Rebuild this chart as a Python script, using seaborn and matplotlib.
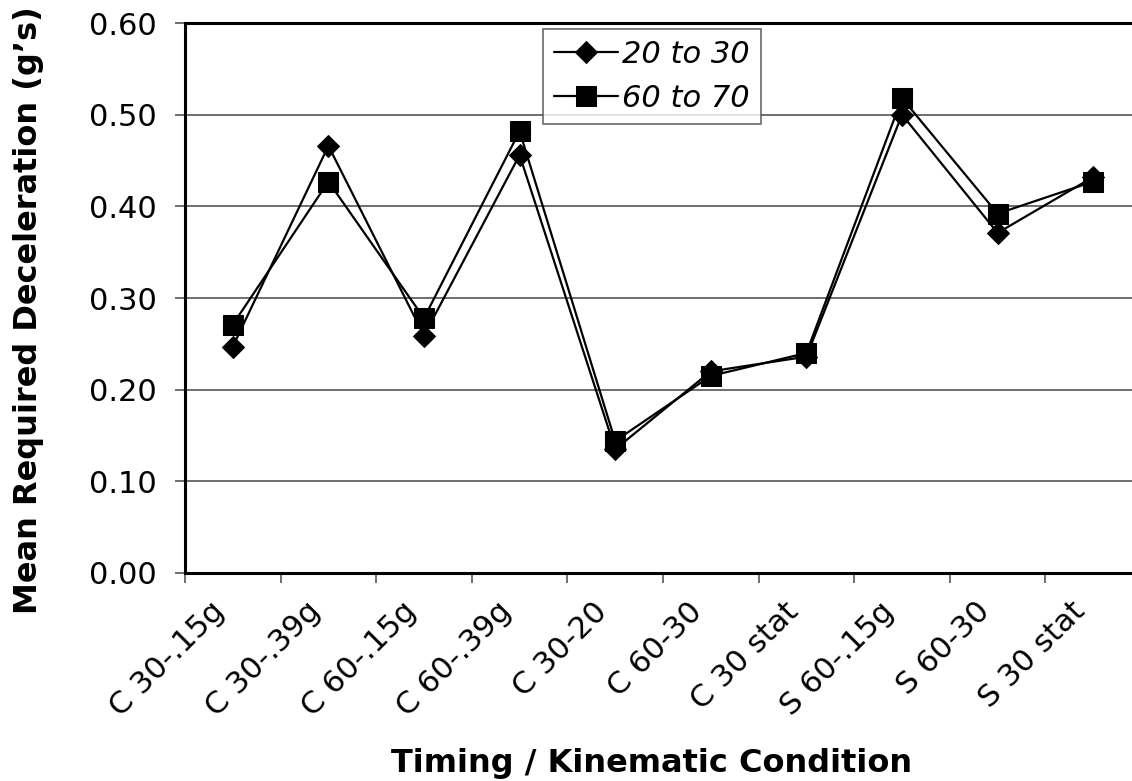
import matplotlib
matplotlib.use("Agg")
import matplotlib.pyplot as plt
import seaborn as sns
import pandas as pd
import numpy as np

categories = ["C 30-.15g", "C 30-.39g", "C 60-.15g", "C 60-.39g", "C 30-20",
              "C 60-30", "C 30 stat", "S 60-.15g", "S 60-30", "S 30 stat"]
series_20_30 = [0.247, 0.466, 0.259, 0.456, 0.135, 0.220, 0.236, 0.500, 0.371, 0.432]
series_60_70 = [0.271, 0.427, 0.278, 0.482, 0.144, 0.215, 0.240, 0.518, 0.392, 0.427]
series_names = ["20 to 30", "60 to 70"]
y_ticks = [0.0, 0.1, 0.2, 0.3, 0.4, 0.5, 0.6]

df = pd.DataFrame({
    "cond": categories * 2,
    "val": series_20_30 + series_60_70,
    "group": [series_names[0]] * len(categories) + [series_names[1]] * len(categories),
})

sns.set_theme(style="white")
plt.rcParams['font.family'] = ['DejaVu Sans']
plt.rcParams['text.color'] = 'black'
plt.rcParams['axes.labelcolor'] = 'black'
plt.rcParams['xtick.labelcolor'] = 'black'
plt.rcParams['ytick.labelcolor'] = 'black'

fig = plt.figure(figsize=(11.32, 7.81), dpi=100)
ax = fig.add_axes([185/1132, 1-573/781, (1141-185)/1132, (573-23)/781])

sns.lineplot(data=df, x="cond", y="val", hue="group", style="group",
             markers={"20 to 30": "D", "60 to 70": "s"}, dashes=False,
             palette={"20 to 30": "black", "60 to 70": "black"},
             markersize=13, linewidth=1.6, ax=ax, sort=False,
             markeredgecolor="black", legend=True)

def fix_marker(line):
    if line.get_marker() == "D":
        line.set_markersize(11)
    elif line.get_marker() == "s":
        line.set_markersize(14.5)

for line in ax.get_lines():
    fix_marker(line)

n = len(categories)
ax.set_xlim(-0.5, n - 0.5)
ax.set_ylim(0, 0.6)
ax.set_yticks(y_ticks)
ax.set_yticklabels([f"{v:.2f}" for v in y_ticks], fontsize=22)
# label anchors sit a little left of each category centre (as in the reference)
ax.set_xticks(np.arange(n) - 0.24)
ax.set_xticklabels(categories, rotation=45, ha="right", rotation_mode="anchor", fontsize=22)
ax.set_xticks(np.arange(n + 1) - 0.5, minor=True)
ax.tick_params(axis="x", which="major", length=0, pad=17)
ax.tick_params(axis="x", which="minor", length=7.5, width=1.2, color="#555555", direction="out", bottom=True)
ax.tick_params(axis="y", which="major", length=7.5, width=1.2, color="#555555", direction="out", left=True, pad=13)

ax.yaxis.grid(True, color="#555555", linewidth=1.2)
ax.xaxis.grid(False)
ax.set_axisbelow(True)

for side in ["left", "bottom", "top"]:
    ax.spines[side].set_visible(True)
    ax.spines[side].set_color("black")
    ax.spines[side].set_linewidth(2.2)
ax.spines["right"].set_visible(False)

ax.set_xlabel("")
ax.set_ylabel("")
fig.text(652/1132, 1-772/781, "Timing / Kinematic Condition", fontsize=23, fontweight="bold",
         ha="center", va="baseline", color="black")
fig.text(29/1132, 1-310/781, "Mean Required Deceleration (g\u2019s)", fontsize=23, fontweight="bold",
         ha="center", va="center", rotation=90, color="black")

handles, labels = ax.get_legend_handles_labels()
for h in handles:
    fix_marker(h)
leg = ax.legend(handles, labels, loc="upper left", bbox_to_anchor=((543-185)/956, (573-29)/550),
                borderaxespad=0, frameon=True, fancybox=False, prop={"size": 22, "style": "italic"},
                handlelength=2.1, handletextpad=0.15, borderpad=0.35, labelspacing=0.5)
leg.get_frame().set_edgecolor("#444444")
leg.get_frame().set_linewidth(1.2)

fig.savefig("out.png", dpi=100)
